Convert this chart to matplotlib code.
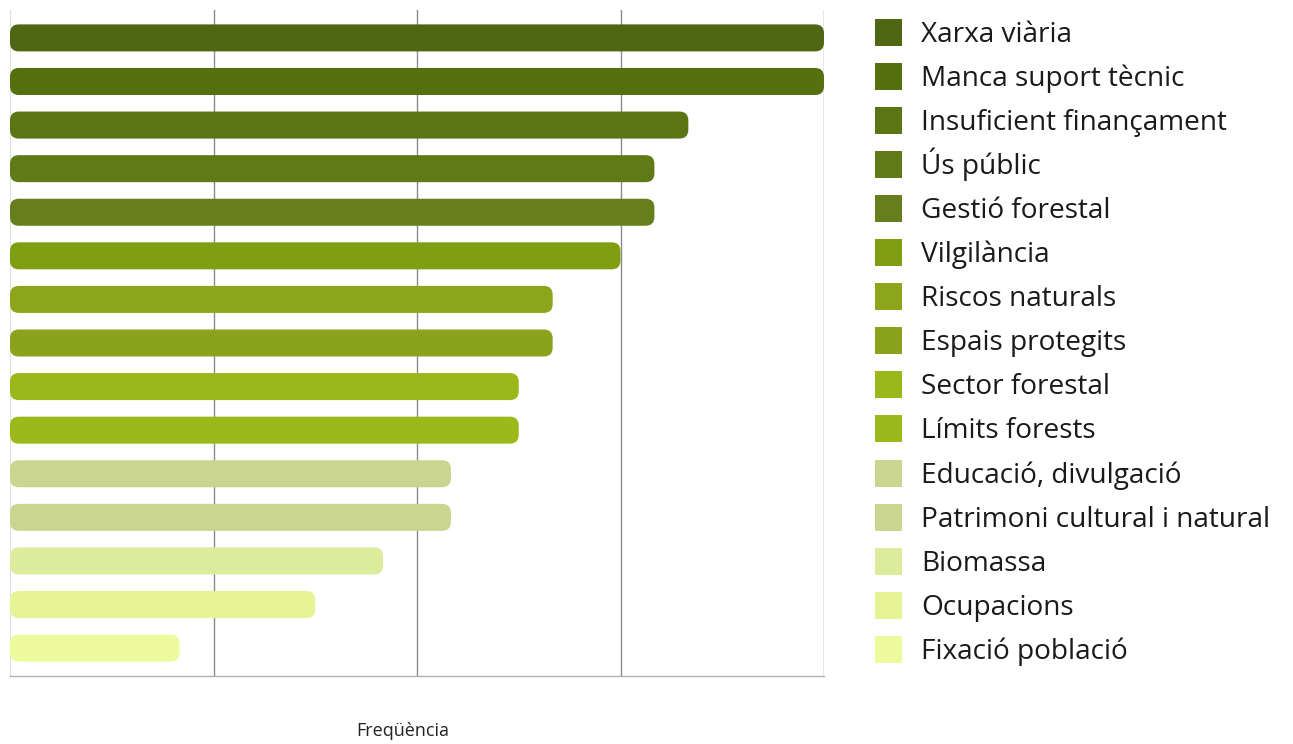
import matplotlib
matplotlib.use("Agg")
import matplotlib.pyplot as plt
import matplotlib.patches as mpatches
from matplotlib.patches import FancyBboxPatch

categories = ["Xarxa viària", "Manca suport tècnic", "Insuficient finançament",
              "Ús públic", "Gestió forestal", "Vilgilància", "Riscos naturals",
              "Espais protegits", "Sector forestal", "Límits forests",
              "Educació, divulgació", "Patrimoni cultural i natural",
              "Biomassa", "Ocupacions", "Fixació població"]
values = [24, 24, 20, 19, 19, 18, 16, 16, 15, 15, 13, 13, 11, 9, 5]
colors = ["#4f6612", "#55700f", "#5b7414", "#617a18", "#667f1c",
          "#809e12", "#8ca51a", "#8ba31c", "#9ab81a", "#9cb91c",
          "#cad690", "#cad690", "#dcec9c", "#e6f496", "#eefa9e"]
grid_ticks = [6, 12, 18, 24]
xlabel = "Freqüència"

plt.rcParams['font.family'] = ['Open Sans', 'DejaVu Sans']

W, H = 1293, 744
fig = plt.figure(figsize=(W / 100, H / 100), dpi=100)
ax_l, ax_r, ax_t, ax_b = 10, 824, 10, 676
ax = fig.add_axes([ax_l / W, 1 - ax_b / H, (ax_r - ax_l) / W, (ax_b - ax_t) / H])

ypos = list(range(len(categories)))
bars = ax.barh(ypos, values, height=0.62, color=colors)
ax.set_xlim(0, 24)
ax.set_ylim(len(categories) - 1 + 0.64, -0.64)

# rounded bars replacing rectangles
px_x = (ax_r - ax_l) / 24.0
px_y = (ax_b - ax_t) / (len(categories) - 1 + 1.28)
aspect = px_x / px_y
for b in bars:
    x0, y0 = b.get_x(), b.get_y()
    w, h = b.get_width(), b.get_height()
    fb = FancyBboxPatch((x0, y0), w, h,
                        boxstyle="round,pad=0,rounding_size=0.26",
                        mutation_aspect=aspect,
                        facecolor=b.get_facecolor(), edgecolor='none', zorder=3)
    ax.add_patch(fb)
    b.set_visible(False)

for t in grid_ticks:
    ax.axvline(t, color="#8a8a8a", lw=1.0, zorder=1)

ax.set_xticks([])
ax.set_yticks([])
for s in ["top", "right"]:
    ax.spines[s].set_visible(False)
ax.spines["left"].set_color("#e0e0e0")
ax.spines["bottom"].set_color("#b0b0b8")
ax.spines["bottom"].set_linewidth(1.0)

fig.text(403 / W, 1 - 731 / H, xlabel, ha="center", va="center",
         fontsize=13, color="#222222")

# legend drawn as evenly spaced rows (squares + labels)
sq = 27
for i, (lab, c) in enumerate(zip(categories, colors)):
    yc = 32 + i * 44.1
    fig.patches.append(mpatches.Rectangle((875 / W, 1 - (yc + sq / 2) / H),
                                          sq / W, sq / H, facecolor=c,
                                          edgecolor='none',
                                          transform=fig.transFigure, figure=fig))
    fig.text(921 / W, 1 - (yc + 9.5) / H, lab, ha="left", va="baseline",
             fontsize=20.2, color="#1a1a1a")

fig.savefig("out.png", dpi=100)
